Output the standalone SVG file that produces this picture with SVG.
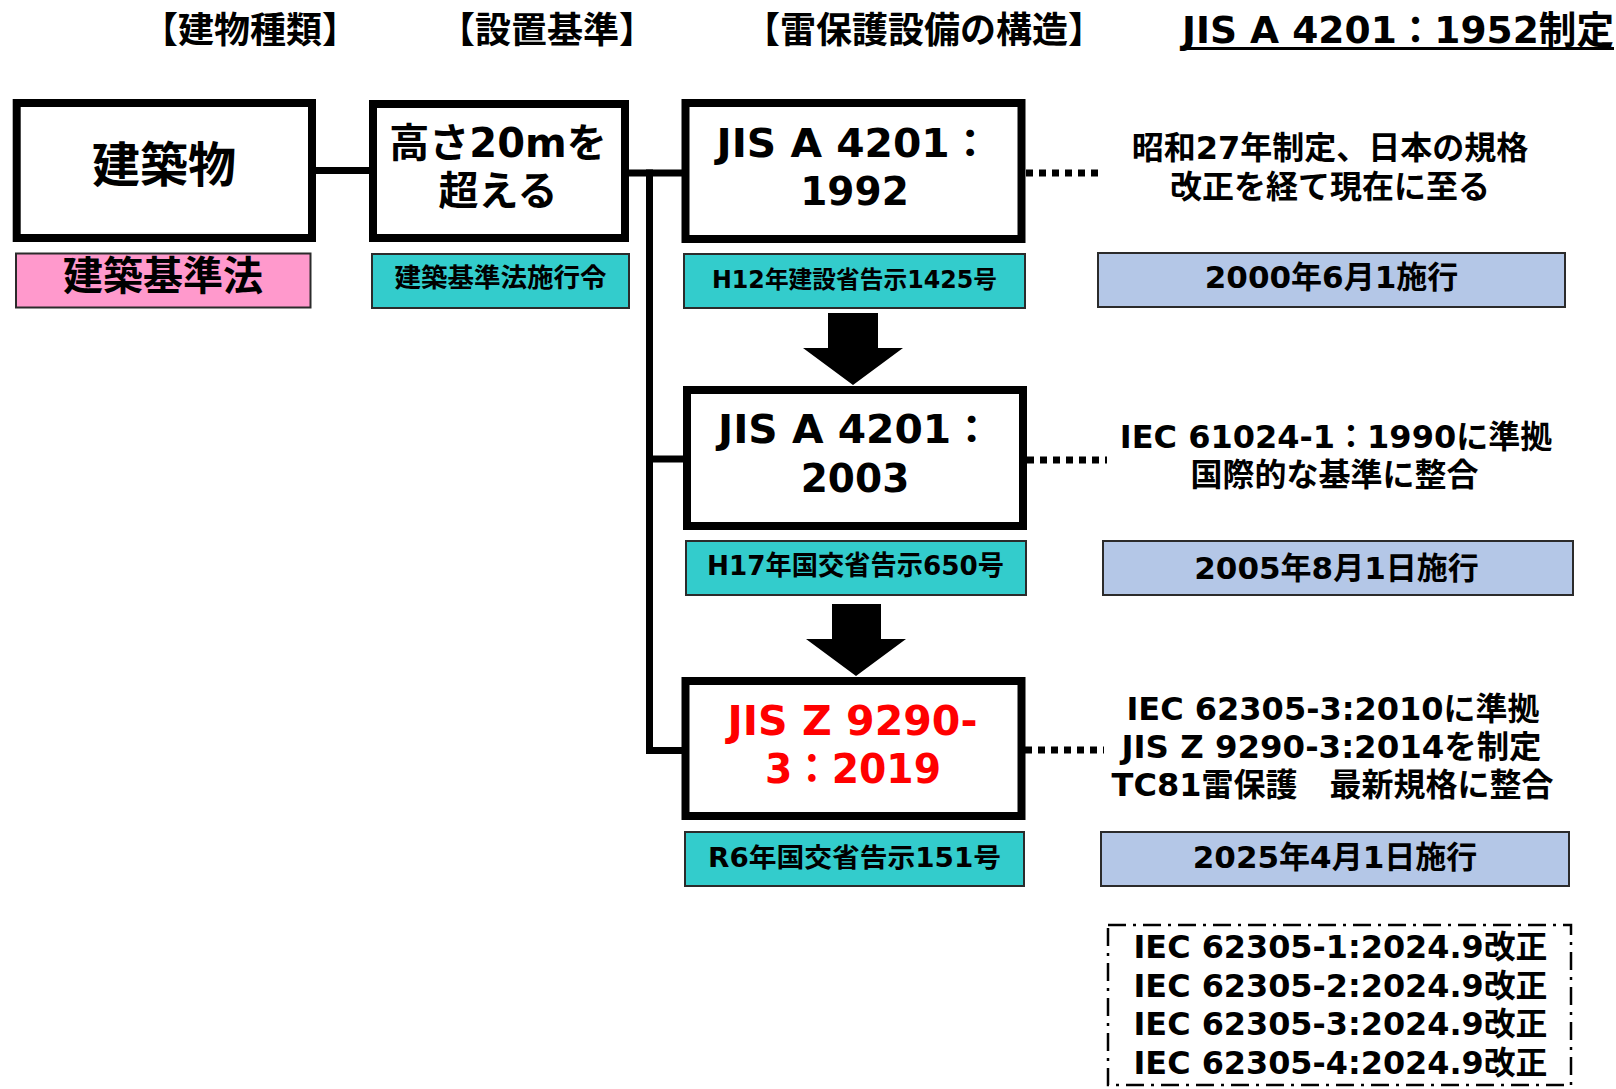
<svg xmlns="http://www.w3.org/2000/svg" width="1616" height="1089" viewBox="0 0 1616 1089">
<style>
  .t { font-family: "DejaVu Sans", "Noto Sans CJK JP", sans-serif; font-weight: bold; fill: #000; }
  .m { text-anchor: middle; }
  .red { fill: #FF0000; }
  .box { fill: #FFFFFF; stroke: #000; stroke-width: 8; }
  .teal { fill: #33CCCC; stroke: #2B2B2B; stroke-width: 2; }
  .blue { fill: #B4C7E7; stroke: #2B2B2B; stroke-width: 2; }
  .pink { fill: #FF99CC; stroke: #2B2B2B; stroke-width: 2; }
  .conn { fill: none; stroke: #000; stroke-width: 7; }
  .dot { fill: none; stroke: #000; stroke-width: 7; stroke-dasharray: 7 6; }
  .arrow { fill: #000; }
  .dashdot { fill: none; stroke: #000; stroke-width: 2.5; stroke-dasharray: 18 7 3 7; }
</style>
<rect x="0" y="0" width="1616" height="1089" fill="#FFFFFF"/>

<g id="headers">
  <text class="t m" x="250" y="43" font-size="36">【建物種類】</text>
  <text class="t m" x="547" y="43" font-size="36">【設置基準】</text>
  <text class="t m" x="924" y="43" font-size="36">【雷保護設備の構造】</text>
  <text class="t" x="1182" y="43" font-size="38" textLength="432" lengthAdjust="spacingAndGlyphs">JIS A 4201：1952制定</text>
  <line x1="1183" y1="48.5" x2="1614" y2="48.5" stroke="#000" stroke-width="3"/>
</g>

<g id="connectors">
  <path class="conn" d="M 312 170.5 H 373"/>
  <path class="conn" d="M 625 173 H 686"/>
  <path class="conn" d="M 649.5 169.5 V 750.5 H 686" stroke-linejoin="miter"/>
  <path class="conn" d="M 649.5 459 H 687"/>
  <path class="dot" d="M 1026 173 H 1102"/>
  <path class="dot" d="M 1027 460 H 1107"/>
  <path class="dot" d="M 1025 750 H 1104"/>
  <polygon class="arrow" points="828,313 878,313 878,348 903,348 853,385 803,348 828,348"/>
  <polygon class="arrow" points="832,604 881,604 881,639 906,639 856,676 806,639 832,639"/>
</g>

<g id="node-building">
  <rect class="box" x="16.7" y="103" width="295.3" height="135"/>
  <text class="t m" x="164" y="182" font-size="48">建築物</text>
</g>
<g id="label-building-law">
  <rect class="pink" x="16" y="253.5" width="294.5" height="54"/>
  <text class="t m" x="163" y="290" font-size="40">建築基準法</text>
</g>

<g id="node-height">
  <rect class="box" x="373" y="104" width="252" height="134"/>
  <text class="t m" x="498" y="157" font-size="40">高さ20mを</text>
  <text class="t m" x="498" y="205" font-size="40">超える</text>
</g>
<g id="label-order">
  <rect class="teal" x="372" y="254" width="257" height="54"/>
  <text class="t m" x="500.5" y="287" font-size="26.5">建築基準法施行令</text>
</g>

<g id="node-jis1992">
  <rect class="box" x="685.5" y="103" width="336" height="136"/>
  <text class="t m" x="853.5" y="157" font-size="39" textLength="274" lengthAdjust="spacingAndGlyphs">JIS A 4201：</text>
  <text class="t m" x="854.5" y="205" font-size="39">1992</text>
</g>
<g id="label-h12">
  <rect class="teal" x="684" y="254" width="341" height="54"/>
  <text class="t m" x="854.5" y="287.5" font-size="24" textLength="285" lengthAdjust="spacingAndGlyphs">H12年建設省告示1425号</text>
</g>
<g id="note-1992">
  <text class="t m" x="1330" y="159" font-size="32">昭和27年制定、日本の規格</text>
  <text class="t m" x="1330" y="198" font-size="32">改正を経て現在に至る</text>
</g>
<g id="date-2000">
  <rect class="blue" x="1098" y="253" width="467" height="54"/>
  <text class="t m" x="1331.5" y="287.5" font-size="31">2000年6月1施行</text>
</g>

<g id="node-jis2003">
  <rect class="box" x="687" y="390" width="336" height="136"/>
  <text class="t m" x="855" y="443" font-size="39" textLength="274" lengthAdjust="spacingAndGlyphs">JIS A 4201：</text>
  <text class="t m" x="855" y="492" font-size="39">2003</text>
</g>
<g id="label-h17">
  <rect class="teal" x="686" y="541" width="340" height="54"/>
  <text class="t m" x="855.5" y="575" font-size="27" textLength="297" lengthAdjust="spacingAndGlyphs">H17年国交省告示650号</text>
</g>
<g id="note-2003">
  <text class="t m" x="1336" y="448" font-size="32">IEC 61024-1：1990に準拠</text>
  <text class="t m" x="1334.5" y="486" font-size="32">国際的な基準に整合</text>
</g>
<g id="date-2005">
  <rect class="blue" x="1103" y="541" width="470" height="54"/>
  <text class="t m" x="1336.5" y="579" font-size="31">2005年8月1日施行</text>
</g>

<g id="node-jisz9290">
  <rect class="box" x="685.5" y="681" width="336" height="135"/>
  <text class="t m red" x="852.5" y="735" font-size="41" textLength="250" lengthAdjust="spacingAndGlyphs">JIS Z 9290-</text>
  <text class="t m red" x="853" y="783" font-size="41" textLength="176" lengthAdjust="spacingAndGlyphs">3：2019</text>
</g>
<g id="label-r6">
  <rect class="teal" x="685" y="832" width="339" height="54"/>
  <text class="t m" x="854.5" y="867" font-size="26.5" textLength="293" lengthAdjust="spacingAndGlyphs">R6年国交省告示151号</text>
</g>
<g id="note-2019">
  <text class="t m" x="1333" y="720" font-size="32">IEC 62305-3:2010に準拠</text>
  <text class="t m" x="1331.5" y="758" font-size="32" textLength="420" lengthAdjust="spacingAndGlyphs">JIS Z 9290-3:2014を制定</text>
  <text class="t m" x="1332.5" y="796" font-size="32">TC81雷保護　最新規格に整合</text>
</g>
<g id="date-2025">
  <rect class="blue" x="1101" y="832" width="468" height="54"/>
  <text class="t m" x="1335" y="868" font-size="31">2025年4月1日施行</text>
</g>

<g id="note-iec2024">
  <rect class="dashdot" x="1108" y="925" width="463" height="160"/>
  <text class="t m" x="1340.5" y="958" font-size="32" textLength="414" lengthAdjust="spacingAndGlyphs">IEC 62305-1:2024.9改正</text>
  <text class="t m" x="1340.5" y="997" font-size="32" textLength="414" lengthAdjust="spacingAndGlyphs">IEC 62305-2:2024.9改正</text>
  <text class="t m" x="1340.5" y="1035" font-size="32" textLength="414" lengthAdjust="spacingAndGlyphs">IEC 62305-3:2024.9改正</text>
  <text class="t m" x="1340.5" y="1074" font-size="32" textLength="414" lengthAdjust="spacingAndGlyphs">IEC 62305-4:2024.9改正</text>
</g>
</svg>
